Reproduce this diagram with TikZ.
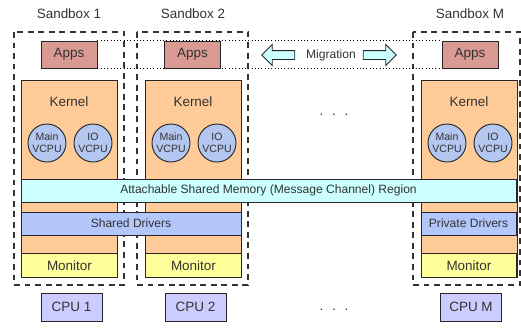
\documentclass[tikz,border=0pt]{standalone}
\usepackage{fontspec}
\setmainfont{Liberation Sans}
\usetikzlibrary{positioning, shapes.arrows}

\definecolor{appred}{HTML}{D99A94}
\definecolor{kernorange}{HTML}{FFCC99}
\definecolor{vcpublue}{HTML}{B4C7F0}
\definecolor{shmcyan}{HTML}{CCFFFF}
\definecolor{drvblue}{HTML}{B4C7FA}
\definecolor{monyellow}{HTML}{FFFF99}
\definecolor{cpuviolet}{HTML}{CCCCFF}

\begin{document}
\begin{tikzpicture}[x=0.3mm, y=-0.3mm,
    box/.style={draw=black!85, line width=0.8pt, inner sep=0pt, text=black!80, font=\fontsize{11.5}{13}\selectfont},
    apps/.style={box, fill=appred, minimum width=16.8mm, minimum height=8.1mm},
    kernel/.style={box, fill=kernorange, minimum width=28.8mm, minimum height=59.1mm},
    vcpu/.style={box, circle, fill=vcpublue, minimum size=11.4mm, align=center, font=\fontsize{9}{10}\selectfont},
    shmem/.style={box, fill=shmcyan, minimum width=148.5mm, minimum height=6.9mm, font=\fontsize{10.3}{12}\selectfont},
    driver/.style={box, fill=drvblue, minimum height=6.9mm, font=\fontsize{10.3}{12}\selectfont},
    monitor/.style={box, fill=monyellow, minimum width=28.8mm, minimum height=7.2mm},
    cpu/.style={box, fill=cpuviolet, minimum width=18.3mm, minimum height=8.4mm},
    sandbox/.style={draw=black!80, line width=0.9pt, dash pattern=on 5pt off 4pt},
    title/.style={text=black!80, font=\fontsize{11.5}{13}\selectfont},
    migrate/.style={single arrow, draw=black!85, fill=shmcyan, line width=0.8pt, minimum height=9.9mm, inner xsep=0pt, inner ysep=1.2mm, single arrow head extend=1.8mm},]

\useasboundingbox (0,0) rectangle (521,327);

% Sandbox frames
\draw[sandbox] (14,32) rectangle (124,285);
\draw[sandbox] (137,32) rectangle (248,285);
\draw[sandbox] (413,32) rectangle (520,285);

\node[title] (sb1) at (69,14) {Sandbox 1};
\node[title] (sb2) at (193,14) {Sandbox 2};
\node[title] (sbm) at (470,14) {Sandbox M};

% Apps row with migration band
\node[apps] (app1) at (69,54.5) {Apps};
\node[apps] (appm) at (470,54.5) {Apps};
\draw[dotted, line width=0.8pt] (app1.north east) -- (appm.north west);
\draw[dotted, line width=0.8pt] (app1.south east) -- (appm.south west);
\node[apps] (app2) at (192.5,54.5) {Apps};

\node[text=black!80, font=\fontsize{10.3}{12}\selectfont] (mig) at (331,55) {Migration};
\node[migrate, shape border rotate=180] (migl) at (280.5,55) {};
\node[migrate] (migr) at (377.5,55) {};

% Kernels
\node[kernel, anchor=north west] (k1) at (21,80) {};
\node[kernel, anchor=north west] (k2) at (145,80) {};
\node[kernel, anchor=north west] (km) at (421,80) {};

\foreach \k/\x in {k1/69, k2/193, km/469} {
    \node[title] (\k-name) at (\x,102) {Kernel};
}
\foreach \k/\x in {k1/47, k2/171, km/447} {
    \node[vcpu] (\k-main) at (\x,143) {Main\\VCPU};
    \node[vcpu] (\k-io) at (\x+46,143) {IO\\VCPU};
}

% Shared memory and drivers
\node[shmem] (shm) at (268.5,190.5) {Attachable Shared Memory (Message Channel) Region};
\node[driver, minimum width=66mm] (shdrv) at (131,223.5) {Shared Drivers};
\node[driver, minimum width=28.5mm] (pvdrv) at (468.5,223.5) {Private Drivers};

% Monitors
\node[monitor, anchor=south west] (mon1) at (k1.south west) {Monitor};
\node[monitor, anchor=south west] (mon2) at (k2.south west) {Monitor};
\node[monitor, anchor=south west, minimum width=28.5mm] (monm) at (km.south west) {Monitor};

% CPUs
\node[cpu] (cpu1) at (71.5,307) {CPU 1};
\node[cpu] (cpu2) at (195.5,307) {CPU 2};
\node[cpu] (cpum) at (471,307) {CPU M};

% ellipses
\node[text=black!80, anchor=base, font=\fontsize{11.5}{13}\selectfont] (dots1) at (334,115) {.\hspace{2.6mm}.\hspace{2.6mm}.};
\node[text=black!80, anchor=base, font=\fontsize{11.5}{13}\selectfont] (dots2) at (334,310) {.\hspace{2.6mm}.\hspace{2.6mm}.};

\end{tikzpicture}
\end{document}
